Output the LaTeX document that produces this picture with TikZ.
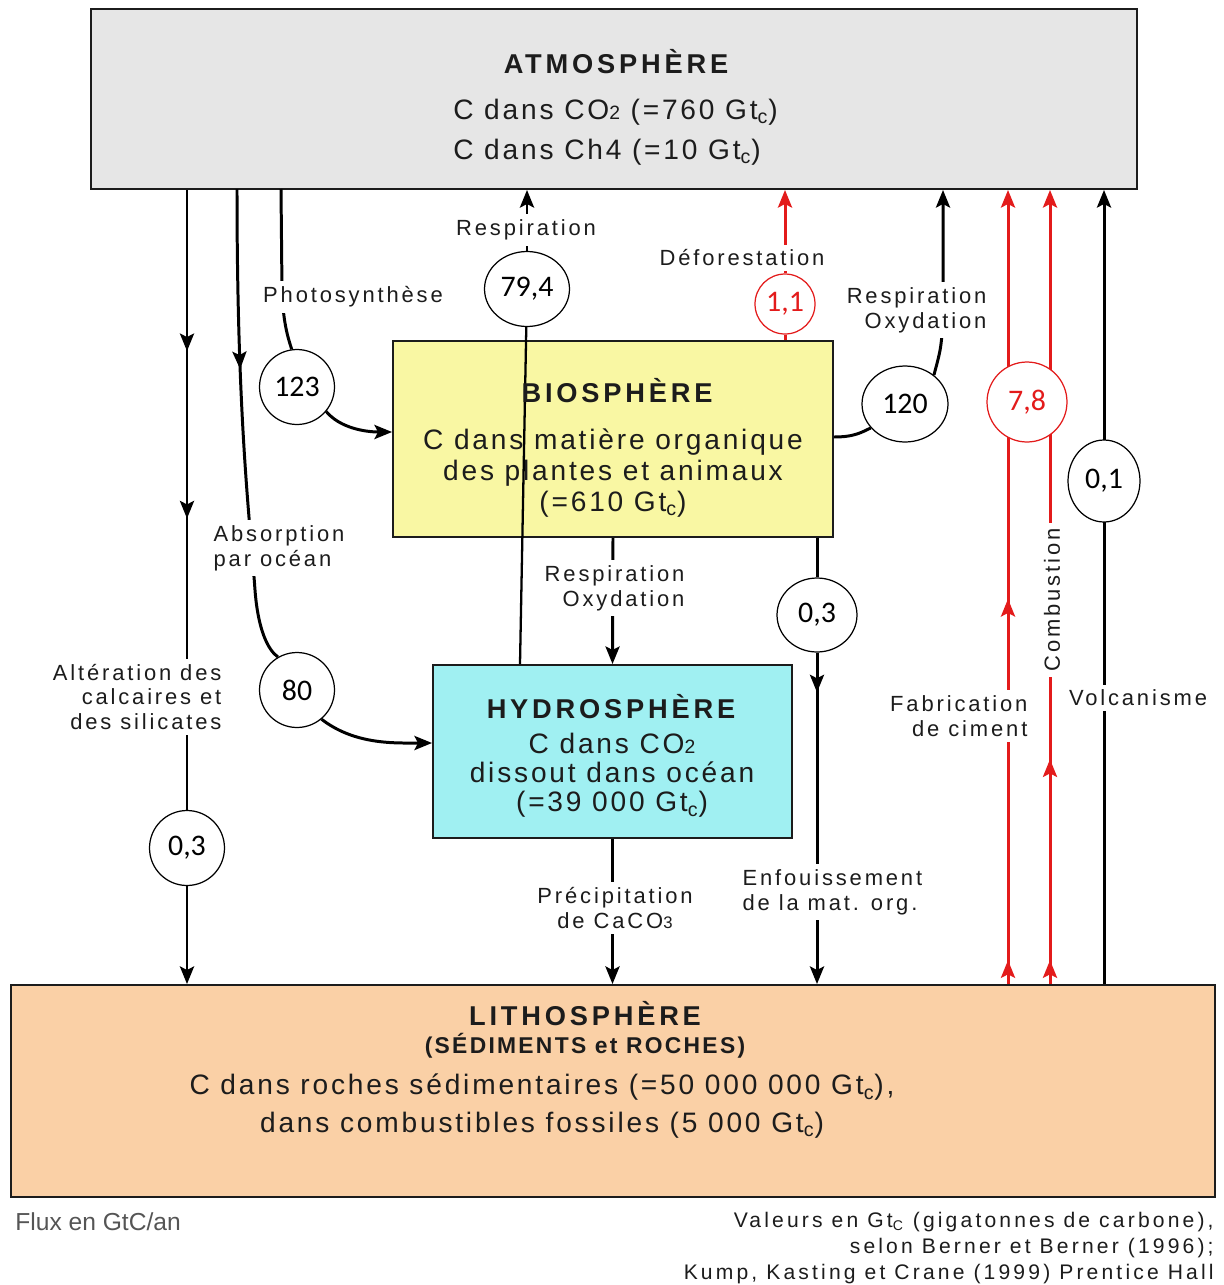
\documentclass[tikz,border=0pt]{standalone}
\usepackage{fontspec}
\setmainfont{Liberation Sans}[LetterSpace=10]
\newfontfamily\plainfont{Liberation Sans}
\newfontfamily\numfont{Carlito}
\usetikzlibrary{shapes.geometric,arrows.meta,decorations.markings}

\definecolor{atmogray}{HTML}{E6E6E6}
\definecolor{bioyellow}{HTML}{F9F7A3}
\definecolor{hydrocyan}{HTML}{A0F0F2}
\definecolor{lithopeach}{HTML}{FAD0A6}
\definecolor{fluxred}{HTML}{E31B1B}
\definecolor{inkgray}{HTML}{1C1C1C}
\definecolor{notegray}{HTML}{555555}

\newcommand\lowdigit[2]{{\fontsize{#1}{#1}\selectfont #2}}

\pgfdeclarelayer{boxes}
\pgfdeclarelayer{links}
\pgfsetlayers{boxes,links,main}

\tikzset{
  pool/.style={rectangle, draw=inkgray, line width=1.1pt, inner sep=0pt},
  pooltitle/.style={inner sep=0pt, text=inkgray,
    font=\fontsize{15.5}{18}\selectfont\bfseries\addfontfeature{LetterSpace=14}},
  pooltext/.style={inner sep=0pt, text=inkgray, align=center},
  fluxval/.style={ellipse, draw, fill=white, line width=0.7pt, inner sep=0pt,
    font=\numfont\fontsize{17}{20}\selectfont},
  fluxlabel/.style={fill=white, inner sep=3pt, text=inkgray,
    font=\fontsize{12.5}{14.2}\selectfont\addfontfeature{LetterSpace=13}},
  flux/.style={line width=1.7pt},
  arrowend/.style={-{Stealth[length=10pt,width=8pt,inset=2pt]}},
  midarrow/.style={postaction={decorate, decoration={markings,
    mark=at position #1 with {\arrow{Stealth[length=10pt,width=8pt,inset=2pt]}}}}}
}

\begin{document}
\begin{tikzpicture}[x=0.02cm, y=-0.02cm]
    \useasboundingbox (0,0) rectangle (1224,1285);

    % Reservoirs

    \begin{pgfonlayer}{boxes}
    \node (atmo) [pool, fill=atmogray, minimum width=20.92cm,
                  minimum height=3.6cm] at (614,99) {};
    \node (bio) [pool, fill=bioyellow, minimum width=8.8cm,
                 minimum height=3.92cm] at (613,439) {};
    \node (hydro) [pool, fill=hydrocyan, minimum width=7.18cm,
                   minimum height=3.46cm] at (612.5,751.5) {};
    \node (litho) [pool, fill=lithopeach, minimum width=24.08cm,
                   minimum height=4.24cm] at (613,1091) {};
    \end{pgfonlayer}

    \node (atmotitle) [pooltitle] at (616,62) {ATMOSPHÈRE};
    \node (atmotext) [pooltext, align=left, anchor=west,
                      font=\fontsize{16}{22.7}\selectfont] at (453,132)
          {C dans CO\lowdigit{11}{2} (=760 Gt\textsubscript{c})\\
           C dans Ch4 (=10 Gt\textsubscript{c})};

    \node (biotitle) [pooltitle] at (617,391) {BIOSPHÈRE};
    \node (biotext) [pooltext, font=\fontsize{16}{17.6}\selectfont]
          at (613,473) {C dans matière organique\\des plantes et animaux\\
                        (=610 Gt\textsubscript{c})};

    \node (hydrotitle) [pooltitle] at (611,707) {HYDROSPHÈRE};
    \node (hydrotext) [pooltext, font=\fontsize{16}{16.6}\selectfont]
          at (612,775) {C dans CO\lowdigit{11}{2}\\dissout dans océan\\
                        (=39 000 Gt\textsubscript{c})};

    \node (lithotitle) [pooltitle] at (585,1014) {LITHOSPHÈRE};
    \node (lithosub) [pooltitle,
                      font=\fontsize{13}{15}\selectfont\bfseries\addfontfeature{LetterSpace=10}]
          at (585,1046) {(SÉDIMENTS et ROCHES)};
    \node (lithotext) [pooltext, font=\fontsize{16}{21.5}\selectfont]
          at (542,1106) {C dans roches sédimentaires (=50 000 000 Gt\textsubscript{c}),\\
                         dans combustibles fossiles (5 000 Gt\textsubscript{c})};

    % Flux values

    \node (c123) [fluxval, minimum width=1.5cm, minimum height=1.5cm] at (297,387) {123};
    \node (c794) [fluxval, minimum width=1.7cm, minimum height=1.5cm] at (527,289) {79,4};
    \node (c80) [fluxval, minimum width=1.5cm, minimum height=1.5cm] at (297,690) {80};
    \node (c03a) [fluxval, minimum width=1.5cm, minimum height=1.5cm] at (187,848) {0,3};
    \node (c11) [fluxval, draw=fluxred, text=fluxred, minimum width=1.2cm,
                 minimum height=1.2cm] at (785,304) {1,1};
    \node (c120) [fluxval, minimum width=1.72cm, minimum height=1.52cm] at (905,404) {120};
    \node (c78) [fluxval, draw=fluxred, text=fluxred, minimum width=1.6cm,
                 minimum height=1.6cm] at (1027,402) {7,8};
    \node (c01) [fluxval, minimum width=1.44cm, minimum height=1.64cm] at (1104,481) {0,1};
    \node (c03b) [fluxval, minimum width=1.6cm, minimum height=1.48cm] at (817,615) {0,3};

    % Flux labels

    \node (photlabel) [fluxlabel] at (353,297) {Photosynthèse};
    \node (resplabel) [fluxlabel] at (526,230) {Respiration};
    \node (defolabel) [fluxlabel] at (742,258) {Déforestation};
    \node (oxylabel) [fluxlabel, align=right, anchor=east] at (992,310)
          {Respiration\\Oxydation};
    \node (abslabel) [fluxlabel, align=left, anchor=west] at (208,548)
          {Absorption\\par océan};
    \node (altlabel) [fluxlabel, align=right, anchor=east] at (227,697)
          {Altération des\\calcaires et\\des silicates};
    \node (bhlabel) [fluxlabel, align=right, anchor=east] at (690,588)
          {Respiration\\Oxydation};
    \node (preclabel) [fluxlabel, align=center] at (615,908)
          {Précipitation\\de CaCO\lowdigit{9.5}{3}};
    \node (enflabel) [fluxlabel, align=left, anchor=west] at (737,892)
          {Enfouissement\\de la mat. org.};
    \node (fablabel) [fluxlabel, align=right, anchor=east] at (1033,716)
          {Fabrication\\de ciment};
    \node (comblabel) [fluxlabel, rotate=90] at (1052,600) {Combustion};
    \node (volclabel) [fluxlabel] at (1138,698) {Volcanisme};

    \node (fluxnote) [anchor=west, inner sep=0pt, text=notegray,
                      font=\plainfont\fontsize{14}{16}\selectfont] at (15,1222)
          {Flux en GtC/an};
    \node (sourcenote) [anchor=east, inner sep=0pt, align=right, text=inkgray,
                        font=\fontsize{12}{14.7}\selectfont\addfontfeature{LetterSpace=15}]
          at (1214,1248)
          {Valeurs en Gt\textsubscript{C} (gigatonnes de carbone),\\
           selon Berner et Berner (1996);\\
           Kump, Kasting et Crane (1999) Prentice Hall};

    \coordinate (absx) at (237,189);
    \coordinate (photx) at (281,189);
    \coordinate (respx) at (520,0);
    \coordinate (oxyx) at (943,0);
    \coordinate (fabx) at (1008,0);
    \coordinate (combx) at (1050,0);

    % Connectors

    \begin{pgfonlayer}{links}
    \draw [flux, midarrow=0.26, midarrow=0.53] (atmo.south -| c03a) -- (c03a);
    \draw [flux, arrowend] (c03a) -- (litho.north -| c03a);
    \draw [flux, midarrow=0.38] (absx) .. controls (237,420) and (250,520) .. (255,590)
          .. controls (258,630) and (268,650) .. (c80.120);
    \draw [flux, arrowend] (c80.-50) .. controls (355,745) and (395,743)
          .. ([yshift=0.17cm]hydro.west);
    \draw [flux] (photx) -- (282,290) .. controls (283,320) and (287,335) .. (c123.98);
    \draw [flux, arrowend] (c123.-40) .. controls (340,428) and (365,432)
          .. ([yshift=0.14cm]bio.west);
    \draw [flux, line width=1.3pt] (hydro.north -| respx) -- (c794);
    \draw [flux, arrowend] (c794) -- (atmo.south -| c794);
    \draw [flux, fluxred] (bio.north -| c11) -- (c11);
    \draw [flux, fluxred, arrowend] (c11) -- (atmo.south -| c11);
    \draw [flux] ([yshift=0.04cm]bio.east) .. controls (855,437) and (862,432) .. (c120.-145);
    \draw [flux, arrowend] (c120.45) .. controls (942,345) .. (943,300)
          -- (atmo.south -| oxyx);
    \draw [flux, fluxred, midarrow=0.03, midarrow=0.485, arrowend]
          (litho.north -| fabx) -- (atmo.south -| fabx);
    \draw [flux, fluxred, midarrow=0.03, midarrow=0.283, arrowend]
          (litho.north -| combx) -- (atmo.south -| combx);
    \draw [flux, arrowend] (litho.north -| c01) -- (atmo.south -| c01);
    \draw [flux, arrowend] (bio.south) -- (hydro.north);
    \draw [flux] (bio.south -| c03b) -- (c03b);
    \draw [flux, midarrow=0.12, arrowend] (c03b) -- (litho.north -| c03b);
    \draw [flux, arrowend] (hydro.south) -- (litho.north -| hydro.south);
    \end{pgfonlayer}
\end{tikzpicture}
\end{document}
